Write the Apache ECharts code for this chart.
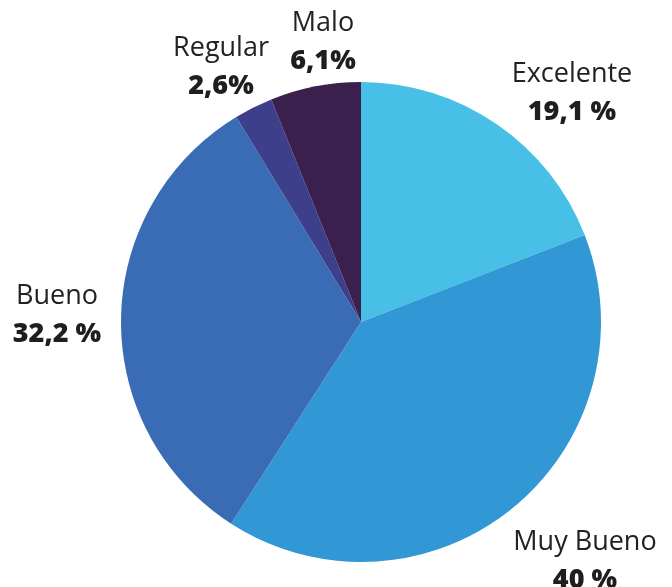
<!DOCTYPE html>
<html>
<head>
<meta charset="utf-8">
<script src="https://cdn.jsdelivr.net/npm/echarts@6/dist/echarts.min.js"></script>
<style>
  html, body { margin: 0; padding: 0; background: #fff; }
  #chart { width: 672px; height: 587px; }
</style>
</head>
<body>
<div id="chart"></div>
<script>
var names = ['Excelente', 'Muy Bueno', 'Bueno', 'Regular', 'Malo'];
var values = [19.1, 40, 32.2, 2.6, 6.1];
var valueLabels = ['19,1 %', '40 %', '32,2 %', '2,6%', '6,1%'];
var colors = ['#48bfe6', '#3197d5', '#3a6cb5', '#3e3f8b', '#3b1f4c'];
// label centres (layout only)
var labelPos = [[572, 93], [585, 561], [57, 315], [221, 67], [323, 42]];

var arr = [];
for (var i = 0; i < names.length; i++) {
  arr.push({ value: values[i], name: names[i], itemStyle: { color: colors[i] } });
}

var chart = echarts.init(document.getElementById('chart'));
chart.setOption({
  animation: false,
  series: [{
    type: 'pie',
    center: [361, 322],
    radius: 240,
    startAngle: 90,
    clockwise: true,
    data: arr,
    label: {
      show: true,
      position: 'outside',
      overflow: 'none',
      width: 200,
      formatter: function (p) {
        return '{n|' + p.name + '}\n{v|' + valueLabels[p.dataIndex] + '}';
      },
      rich: {
        n: { fontFamily: 'Open Sans', fontSize: 27, color: '#222', lineHeight: 38, align: 'center' },
        v: { fontFamily: 'Open Sans', fontSize: 27, fontWeight: 800, color: '#1e1e1e', lineHeight: 38, align: 'center' }
      }
    },
    labelLine: { show: false },
    labelLayout: function (p) {
      var c = labelPos[p.dataIndex];
      return { x: c[0], y: c[1], align: 'center', verticalAlign: 'middle', hideOverlap: false };
    }
  }]
});
</script>
</body>
</html>
